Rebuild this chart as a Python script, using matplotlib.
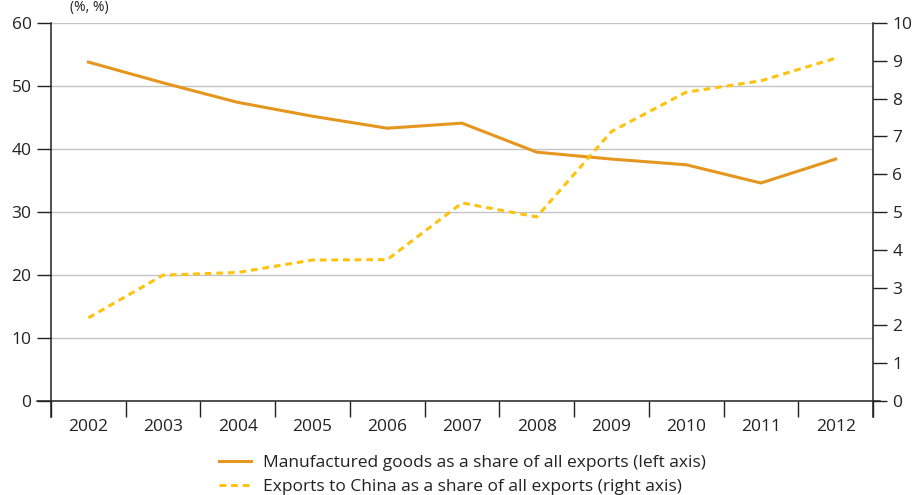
import matplotlib
matplotlib.use("Agg")
import matplotlib.pyplot as plt
from matplotlib.ticker import FixedLocator

plt.rcParams['font.family'] = ['Open Sans', 'DejaVu Sans']

years = ["2002", "2003", "2004", "2005", "2006", "2007", "2008", "2009", "2010", "2011", "2012"]
manufactured = [53.8, 50.5, 47.4, 45.2, 43.3, 44.1, 39.5, 38.4, 37.5, 34.6, 38.4]
china = [2.2, 3.33, 3.4, 3.73, 3.74, 5.24, 4.87, 7.13, 8.17, 8.47, 9.07]
left_ticks = [0, 10, 20, 30, 40, 50, 60]
right_ticks = [0, 1, 2, 3, 4, 5, 6, 7, 8, 9, 10]
label_manu = "Manufactured goods as a share of all exports (left axis)"
label_china = "Exports to China as a share of all exports (right axis)"

c_manu = "#E5961E"
c_china = "#FFC20E"
dark = "#222222"
fs = 12.5

fig = plt.figure(figsize=(9.18, 4.95), dpi=100)
ax = fig.add_axes([51/918, 1-401/495, 822/918, 378/495])
ax2 = ax.twinx()

x = list(range(len(years)))
ax.set_xlim(-0.5, len(years) - 0.5)
ax.set_ylim(0, 60)
ax2.set_ylim(0, 10)

for a in (ax, ax2):
    for s in a.spines.values():
        s.set_visible(False)

ax.set_yticks(left_ticks)
ax.set_yticklabels([str(t) for t in left_ticks], fontsize=fs, color=dark)
ax.tick_params(axis='y', direction='out', length=10, width=1, color=dark, pad=4)
ax2.set_yticks(right_ticks)
ax2.set_yticklabels([str(t) for t in right_ticks], fontsize=fs, color=dark)
ax2.tick_params(axis='y', direction='out', length=10, width=1, color=dark, pad=4)

ax.set_xticks(x)
ax.set_xticklabels(years, fontsize=fs, color=dark)
ax.tick_params(axis='x', which='major', length=0, pad=13)
ax.xaxis.set_minor_locator(FixedLocator([i - 0.5 for i in range(len(years) + 1)]))
ax.tick_params(axis='x', which='minor', direction='out', length=11.5, width=1, color=dark)

ax.grid(axis='y', color="#C4C4C4", linewidth=1)
ax.set_axisbelow(True)

# axis lines
ax.plot([-0.017, 1.009], [0, 0], transform=ax.transAxes, color=dark, lw=1.1, clip_on=False, zorder=5)
ax.plot([0, 0], [-0.042, 1.0], transform=ax.transAxes, color=dark, lw=1.1, clip_on=False, zorder=5)
ax.plot([1, 1], [-0.042, 1.0], transform=ax.transAxes, color=dark, lw=1.1, clip_on=False, zorder=5)

l1, = ax.plot(x, manufactured, color=c_manu, lw=2.2, label=label_manu, zorder=4)
l2, = ax2.plot(x, china, color=c_china, lw=2.2, ls=(0, (2.2, 1.6)), label=label_china, zorder=4)

fig.legend(handles=[l1, l2], loc='upper left', bbox_to_anchor=(212/918, 1-448/495),
           frameon=False, fontsize=fs, handlelength=1.85, handletextpad=0.7,
           labelspacing=0.45, borderaxespad=0, labelcolor=dark)

fig.text(70/918, 1.0, "(%, %)", fontsize=10, color=dark, va='top', ha='left')

fig.savefig("out.png", dpi=100)
